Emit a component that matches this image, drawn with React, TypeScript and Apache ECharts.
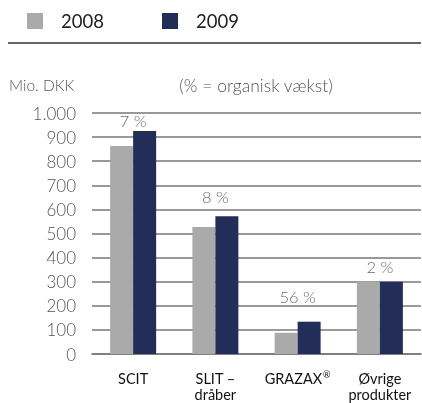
import React, { useEffect, useRef } from "react";
import * as echarts from "echarts";

const categories = ["SCIT", "SLIT –\ndråber", "GRAZAX®", "Øvrige\nprodukter"];
const seriesNames = ["2008", "2009"];
const values2008 = [863, 527, 88, 300];
const values2009 = [925, 572, 134, 300];
const growthLabels = ["7 %", "8 %", "56 %", "2 %"];
const colors = ["#aaaaaa", "#232e58"];
const yUnit = "Mio. DKK";
const note = "(% = organisk vækst)";

// styling: gap (px) between each growth label and its bar
const labelGaps = [2, 11, 16, 6];

const FONT = "Lato, 'Noto Sans', sans-serif";

export default function App() {
  const ref = useRef<HTMLDivElement>(null);
  useEffect(() => {
    if (!ref.current) return;
    const chart = echarts.init(ref.current, null, { renderer: "svg" });
    const tops = values2008.map((v, i) => ({
      value: Math.max(v, values2009[i]),
      label: { distance: labelGaps[i] },
    }));
    chart.setOption({
      animation: false,
      textStyle: { fontFamily: FONT },
      grid: { left: 92, right: 1, top: 113, bottom: 49 },
      graphic: [
        { type: "rect", shape: { x: 27, y: 13, width: 16, height: 16 }, style: { fill: colors[0] } },
        { type: "text", x: 61, y: 21, style: { text: seriesNames[0], fontSize: 18.5, fill: "#222", fontFamily: FONT, verticalAlign: "middle" } },
        { type: "rect", shape: { x: 162, y: 13, width: 16, height: 16 }, style: { fill: colors[1] } },
        { type: "text", x: 196, y: 21, style: { text: seriesNames[1], fontSize: 18.5, fill: "#222", fontFamily: FONT, verticalAlign: "middle" } },
        { type: "line", shape: { x1: 8, y1: 43, x2: 421, y2: 43 }, style: { stroke: "#333", lineWidth: 1.5 } },
        { type: "text", x: 9, y: 85, style: { text: yUnit, fontSize: 15.5, fill: "#555", fontFamily: FONT, verticalAlign: "middle", fontWeight: 300 } },
        { type: "text", x: 256, y: 85, style: { text: note, fontSize: 17.5, fill: "#555", fontFamily: FONT, verticalAlign: "middle", align: "center", fontWeight: 300 } },
      ],
      xAxis: {
        type: "category",
        data: categories,
        axisLine: { show: true, lineStyle: { color: "#777", width: 1.5 } },
        axisTick: { show: false },
        axisLabel: {
          color: "#111",
          fontSize: 14.5,
          margin: 16,
          lineHeight: 16,
          fontFamily: FONT,
          interval: 0,
          formatter: (v: string) => v.replace("®", "{sup|®}"),
          rich: {
            sup: { fontSize: 9, verticalAlign: "top", color: "#111", fontFamily: FONT, padding: [0, 0, 6, 1] },
          },
        },
      },
      yAxis: {
        type: "value",
        min: 0,
        max: 1000,
        interval: 100,
        axisLine: { show: false },
        axisTick: { show: false },
        splitLine: { lineStyle: { color: "#777", width: 1.5 } },
        axisLabel: {
          color: "#555",
          fontSize: 17,
          margin: 16,
          fontWeight: 300,
          fontFamily: FONT,
          formatter: (v: number) => (v >= 1000 ? String(v).replace(/(\d)(\d{3})$/, "$1.$2") : String(v)),
        },
      },
      series: [
        {
          name: seriesNames[0],
          type: "bar",
          data: values2008,
          barWidth: 23,
          barGap: "0%",
          itemStyle: { color: colors[0] },
        },
        {
          name: seriesNames[1],
          type: "bar",
          data: values2009,
          barWidth: 23,
          barGap: "0%",
          itemStyle: { color: colors[1] },
        },
        {
          type: "scatter",
          data: tops,
          symbolSize: 0,
          silent: true,
          label: {
            show: true,
            position: "top",
            distance: 2,
            color: "#444",
            fontSize: 16.5,
            fontWeight: 300,
            fontFamily: FONT,
            formatter: (p: any) => growthLabels[p.dataIndex],
          },
        },
      ],
    });
    return () => chart.dispose();
  }, []);
  return <div ref={ref} style={{ position: "fixed", left: 0, top: 0, width: 422, height: 403 }} />;
}
